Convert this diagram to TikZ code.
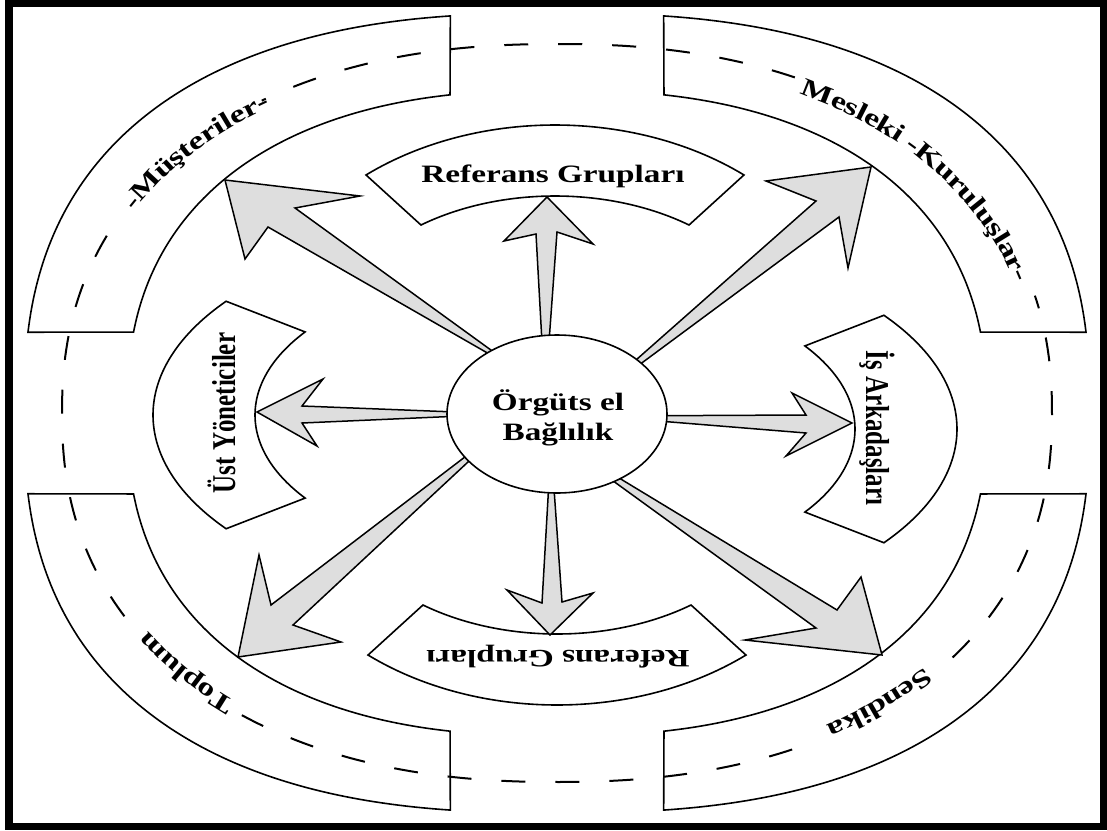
\documentclass[tikz,border=0pt]{standalone}
\usepackage{fontspec}
\usepackage{graphicx}
\setmainfont{Liberation Serif}
\newfontfamily\widefont[FakeStretch=1.33]{Liberation Serif}
\newfontfamily\arcfam[FakeStretch=1.36]{Liberation Serif}
\usetikzlibrary{decorations.text,shapes.geometric}
\definecolor{arrowgray}{RGB}{222,222,222}
\newcommand\arcfont{\arcfam\bfseries\fontsize{25}{30}\selectfont}
% outer annular band between two superellipses
\newcommand\drawband[4]{%
  \draw[band] plot[domain=#1:#2,samples=90,variable=\t]
    ({557+533*spx(\t,0.8)},{413-400*spy(\t,0.8)})
    -- plot[domain=#3:#4,samples=90,variable=\t]
    ({557+430*spx(\t,0.8333)},{413-323*spy(\t,0.8333)}) -- cycle;}
\newcommand\ringseg[2]{%
  \draw[ring] plot[domain=#1:#2,samples=120,variable=\t]
    ({557+495*spx(\t,0.8889)},{413-369*spy(\t,0.8889)});}
\newcommand\arclabel[4]{%
  \path[decorate,decoration={text along path,text={|\arcfont|#3},
      text align=center,raise=#4}]
    plot[domain=#1:#2,samples=200,variable=\t]
    ({557+495*spx(\t,0.8889)},{413-369*spy(\t,0.8889)});}
\begin{document}
\begin{tikzpicture}[x=1pt,y=-1pt,
  declare function={spx(\vt,\ve)=cos(\vt)*pow(abs(cos(\vt))+0.00001,\ve-1);
                    spy(\vt,\ve)=sin(\vt)*pow(abs(sin(\vt))+0.00001,\ve-1);},
  band/.style={draw=black,line width=1.6pt,fill=white,line join=miter},
  innershape/.style={draw=black,line width=1.6pt,fill=white,line join=miter},
  blockarrow/.style={draw=black,line width=1.5pt,fill=arrowgray,line join=miter},
  ring/.style={draw=black,line width=2pt,dash pattern=on 24pt off 30pt},
  lbl/.style={font=\widefont\bfseries\fontsize{25}{30}\selectfont,inner sep=0pt},
  vlbl/.style={font=\bfseries\fontsize{25}{30}\selectfont,inner sep=0pt},
]
\useasboundingbox (0,0) rectangle (1107,830);
\fill[white] (0,0) rectangle (1107,830);
% frame
\draw[line width=7.5pt] (9,3.5) rectangle (1103.5,826.5);

% cut angles of the outer bands
\pgfmathsetmacro\oh{asin(pow(81/400,1.25))}
\pgfmathsetmacro\ov{acos(pow(107/533,1.25))}
\pgfmathsetmacro\ih{asin(pow(81/323,1.2))}
\pgfmathsetmacro\iv{acos(pow(107/430,1.2))}
\pgfmathsetmacro\tlA{180-\ov}\pgfmathsetmacro\tlB{180-\oh}
\pgfmathsetmacro\tlC{180-\ih}\pgfmathsetmacro\tlD{180-\iv}
\pgfmathsetmacro\blA{180+\oh}\pgfmathsetmacro\blB{180+\ov}
\pgfmathsetmacro\blC{180+\iv}\pgfmathsetmacro\blD{180+\ih}
\pgfmathsetmacro\brA{360-\ov}\pgfmathsetmacro\brB{360-\oh}
\pgfmathsetmacro\brC{360-\ih}\pgfmathsetmacro\brD{360-\iv}

\drawband{\tlA}{\tlB}{\tlC}{\tlD}
\drawband{\ov}{\oh}{\ih}{\iv}
\drawband{\blA}{\blB}{\blC}{\blD}
\drawband{\brA}{\brB}{\brC}{\brD}

% dashed ring
\ringseg{64}{124}
\ringseg{154}{212}
\ringseg{233}{299}
\ringseg{321}{376}

% labels along the ring
\arclabel{162}{112}{-Müşteriler-}{-9pt}
\arclabel{70}{10}{Mesleki -Kuruluşlar-}{-14pt}
\arclabel{240}{205}{Toplum}{-9pt}
\arclabel{326}{293}{Sendika}{-11pt}

% inner block arcs
\draw[innershape] plot[domain=129.2:50.8,samples=60,variable=\t] ({555+299*cos(\t)},{347-222*sin(\t)})
  -- plot[domain=53.9:126.1,samples=60,variable=\t] ({555+227.5*cos(\t)},{347-151*sin(\t)}) -- cycle;
\draw[innershape] plot[domain=129.2:50.8,samples=60,variable=\t] ({557+299*cos(\t)},{483+222*sin(\t)})
  -- plot[domain=53.9:126.1,samples=60,variable=\t] ({557+227.5*cos(\t)},{483+151*sin(\t)}) -- cycle;
\draw[innershape] plot[domain=143:217,samples=60,variable=\t] ({516+363*cos(\t)},{415-189*sin(\t)})
  -- plot[domain=216.1:143.9,samples=60,variable=\t] ({516+261*cos(\t)},{415-141*sin(\t)}) -- cycle;
\draw[innershape] plot[domain=143:217,samples=60,variable=\t] ({594-363*cos(\t)},{429-189*sin(\t)})
  -- plot[domain=216.1:143.9,samples=60,variable=\t] ({594-261*cos(\t)},{429-141*sin(\t)}) -- cycle;

\node[lbl,anchor=base] (reftop) at (553,182) {Referans Grupları};
\node[lbl,anchor=base,rotate=180] (refbot) at (558,650) {Referans Grupları};
\node[vlbl,anchor=base,rotate=90] (ust) at (235,413) {\scalebox{1}[1.33]{Üst Yöneticiler}};
\node[vlbl,anchor=base,rotate=-90] (is) at (866,428) {\scalebox{1}[1.33]{İş Arkadaşları}};

% block arrows
\draw[blockarrow] (524,374) -- (268,227) -- (245,259) -- (225,180) -- (360,196) -- (295,208) -- cycle;
\draw[blockarrow] (545,397) -- (536,234) -- (504,241) -- (547,197) -- (593,244) -- (557,232) -- cycle;
\draw[blockarrow] (585,405) -- (816,201) -- (766,181) -- (871,167) -- (848,268) -- (839,217) -- cycle;
\draw[blockarrow] (507,414) -- (302,406) -- (323,379) -- (257,412) -- (317,446) -- (302,423) -- cycle;
\draw[blockarrow] (597,416) -- (806,415) -- (792,393) -- (852,423) -- (786,456) -- (806,433) -- cycle;
\draw[blockarrow] (512,421) -- (271,605) -- (259,555) -- (238,657) -- (341,642) -- (293,625) -- cycle;
\draw[blockarrow] (551,446) -- (542,603) -- (507,590) -- (550,635) -- (593,593) -- (562,602) -- cycle;
\draw[blockarrow] (558,441) -- (837,610) -- (861,577) -- (882,655) -- (745,640) -- (816,628) -- cycle;

% centre
\node[draw,ellipse,line width=1.6pt,fill=white,minimum width=220pt,minimum height=158pt,inner sep=0pt] (core) at (557,414) {};
\node[lbl,anchor=base] (core1) at (558,410) {Örgüts el};
\node[lbl,anchor=base] (core2) at (558,440) {Bağlılık};
\end{tikzpicture}
\end{document}
